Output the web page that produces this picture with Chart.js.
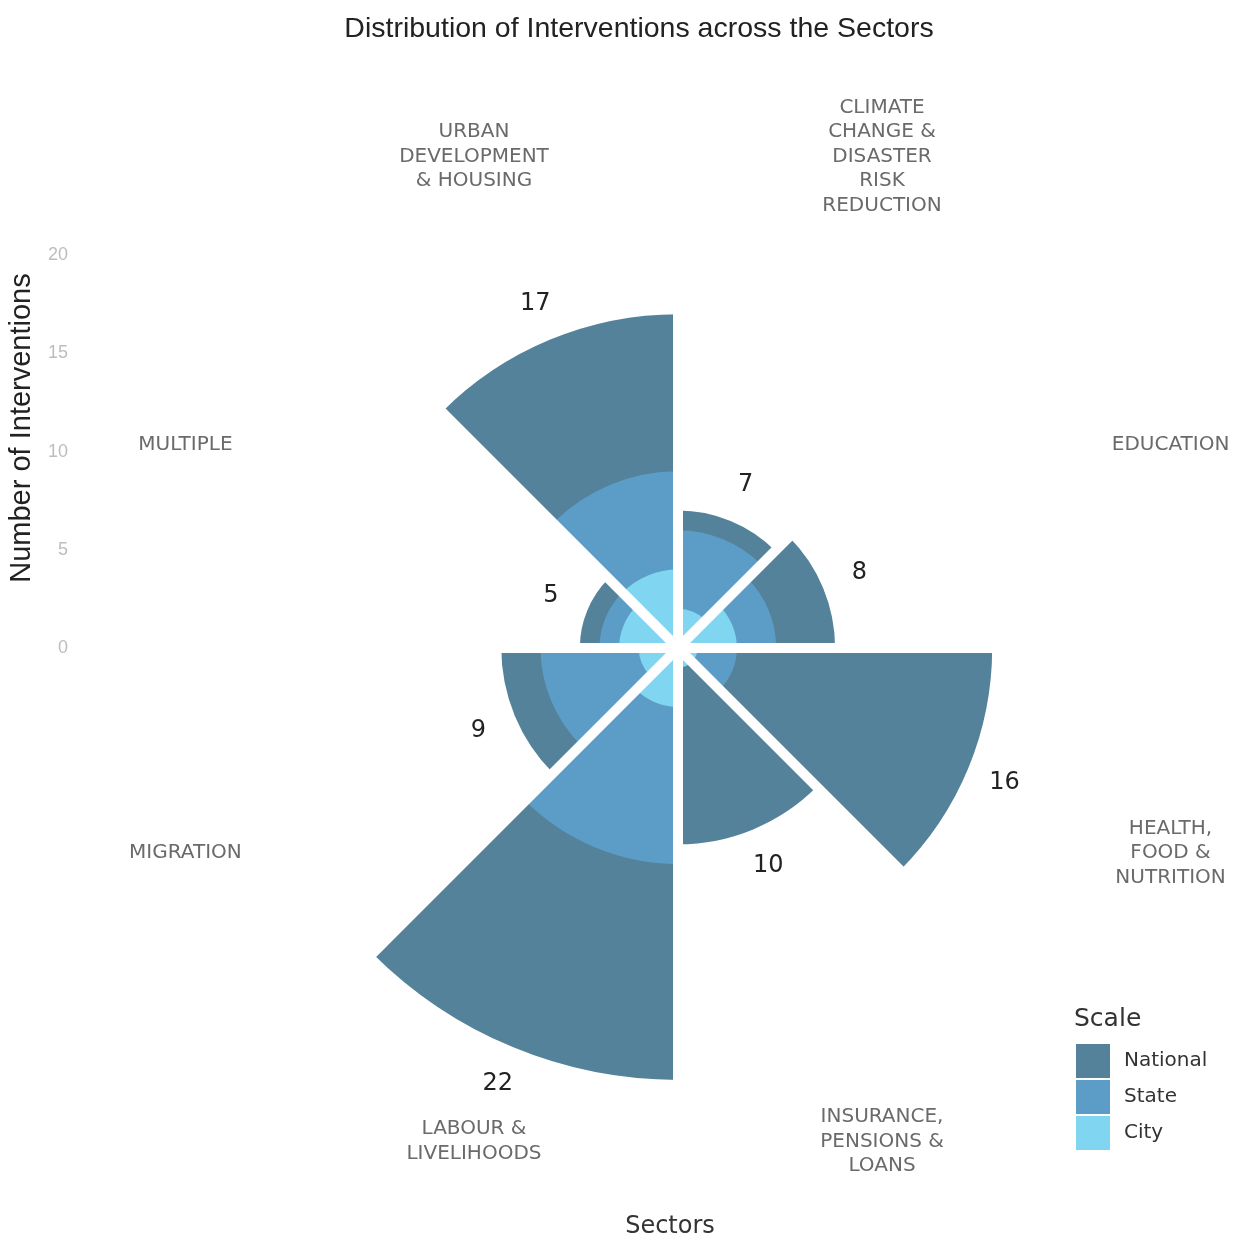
<!DOCTYPE html>
<html><head><meta charset="utf-8">
<script src="https://cdn.jsdelivr.net/npm/chart.js@4.4.1/dist/chart.umd.min.js"></script>
<style>html,body{margin:0;padding:0;background:#fff;}#wrap{width:1242px;height:1239px;}</style>
</head><body><div id="wrap"><canvas id="c" width="1242" height="1239"></canvas></div>
<script>
// ---- data ----
const sectors = [
  ['CLIMATE','CHANGE &','DISASTER','RISK','REDUCTION'],
  ['EDUCATION'],
  ['HEALTH,','FOOD &','NUTRITION'],
  ['INSURANCE,','PENSIONS &','LOANS'],
  ['LABOUR &','LIVELIHOODS'],
  ['MIGRATION'],
  ['MULTIPLE'],
  ['URBAN','DEVELOPMENT','& HOUSING']
];
const scaleNames = ['National','State','City'];
const cityValues     = [2, 3, 1, 1, 3, 2, 3, 4];
const stateValues    = [4, 2, 2, 0, 8, 5, 1, 5];
const nationalValues = [1, 3, 13, 9, 11, 2, 1, 8];
const radialTicks = [0, 5, 10, 15, 20];
const radialMax = 22;

const titleText = 'Distribution of Interventions across the Sectors';
const yTitle = 'Number of Interventions';
const xTitle = 'Sectors';
const legendTitle = 'Scale';

const colors = { National: '#54829a', State: '#5c9dc8', City: '#80d6f1' };

// cumulative layers (City innermost, National outermost)
const cityTop = cityValues.slice();
const stateTop = cityValues.map((v, i) => v + stateValues[i]);
const totals = stateTop.map((v, i) => v + nationalValues[i]);

const decor = {
  id: 'decor',
  afterDatasetsDraw(chart) {
    const ctx = chart.ctx, r = chart.scales.r;
    const meta = chart.getDatasetMeta(2);
    ctx.save();
    ctx.strokeStyle = '#ffffff';
    ctx.lineWidth = 10;
    meta.data.forEach(arc => {
      const a = arc.startAngle;
      ctx.beginPath();
      ctx.moveTo(r.xCenter, r.yCenter);
      ctx.lineTo(r.xCenter + Math.cos(a) * (r.drawingArea + 30), r.yCenter + Math.sin(a) * (r.drawingArea + 30));
      ctx.stroke();
    });
    ctx.restore();
  },
  afterDraw(chart) {
    const ctx = chart.ctx, r = chart.scales.r;
    const meta = chart.getDatasetMeta(2);
    ctx.save();
    ctx.textAlign = 'center';
    ctx.textBaseline = 'middle';

    // title
    ctx.fillStyle = '#222';
    ctx.font = '28.5px "Liberation Sans", Arial, sans-serif';
    ctx.fillText(titleText, 639, 29);

    // value labels + category labels
    meta.data.forEach((arc, i) => {
      const mid = (arc.startAngle + arc.endAngle) / 2;
      const d = r.getDistanceFromCenterForValue(totals[i] + 2);
      ctx.fillStyle = '#222';
      ctx.font = '24px "DejaVu Sans", sans-serif';
      ctx.fillText(String(totals[i]), r.xCenter + Math.cos(mid) * d, r.yCenter + Math.sin(mid) * d);

      const dl = r.getDistanceFromCenterForValue(27.15);
      const cx = r.xCenter + Math.cos(mid) * dl, cy = r.yCenter + Math.sin(mid) * dl;
      const lines = sectors[i];
      const lh = 24.5;
      ctx.fillStyle = '#6a6a6a';
      ctx.font = '20px "DejaVu Sans", sans-serif';
      lines.forEach((ln, k) => {
        ctx.fillText(ln, cx, cy + 1 + (k - (lines.length - 1) / 2) * lh);
      });
    });

    // radial axis ticks (left)
    ctx.textAlign = 'right';
    ctx.fillStyle = '#bdbdbd';
    ctx.font = '18px "Liberation Sans", Arial, sans-serif';
    radialTicks.forEach(v => {
      ctx.fillText(String(v), 68, r.yCenter - r.getDistanceFromCenterForValue(v));
    });

    // y title
    ctx.save();
    ctx.translate(22, 428);
    ctx.rotate(-Math.PI / 2);
    ctx.textAlign = 'center';
    ctx.fillStyle = '#222';
    ctx.font = '29px "Liberation Sans", Arial, sans-serif';
    ctx.fillText(yTitle, 0, 0);
    ctx.restore();

    // x title
    ctx.textAlign = 'center';
    ctx.fillStyle = '#333';
    ctx.font = '24px "DejaVu Sans", sans-serif';
    ctx.fillText(xTitle, 670, 1227);

    // legend
    ctx.textAlign = 'left';
    ctx.fillStyle = '#333';
    ctx.font = '25px "DejaVu Sans", sans-serif';
    ctx.fillText(legendTitle, 1074, 1019);
    ctx.font = '20px "DejaVu Sans", sans-serif';
    scaleNames.forEach((n, k) => {
      const y = 1044 + k * 36;
      ctx.fillStyle = colors[n];
      ctx.fillRect(1076, y, 34, 34);
      ctx.fillStyle = '#333';
      ctx.fillText(n, 1124, y + 17);
    });
    ctx.restore();
  }
};

new Chart(document.getElementById('c'), {
  type: 'polarArea',
  data: {
    labels: sectors,
    datasets: [
      { label: 'City', data: cityTop, backgroundColor: colors.City, borderWidth: 0, order: 1 },
      { label: 'State', data: stateTop, backgroundColor: colors.State, borderWidth: 0, order: 2 },
      { label: 'National', data: totals, backgroundColor: colors.National, borderWidth: 0, order: 3 }
    ]
  },
  options: {
    responsive: false,
    animation: false,
    events: [],
    layout: { padding: { left: 246, right: 132, top: 216, bottom: 159 } },
    scales: {
      r: {
        min: 0, max: radialMax, startAngle: 0,
        ticks: { display: false },
        grid: { display: false },
        angleLines: { display: false },
        pointLabels: { display: false }
      }
    },
    plugins: { legend: { display: false }, tooltip: { enabled: false }, title: { display: false } }
  },
  plugins: [decor]
});
</script>
</body></html>
